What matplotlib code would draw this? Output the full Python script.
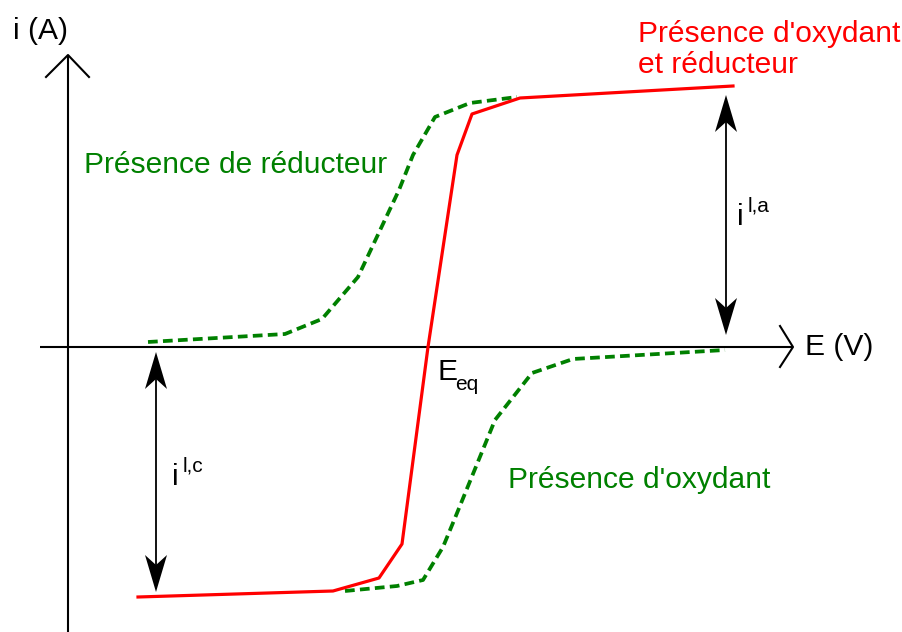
import matplotlib
matplotlib.use("Agg")
import matplotlib.pyplot as plt
from matplotlib.patches import Polygon

plt.rcParams['font.family'] = ['Liberation Sans', 'DejaVu Sans']
plt.rcParams['lines.scale_dashes'] = False

# Schematic values (E in px-like units from origin, i upward positive)
red_E = [70, 265, 311, 334, 360, 389, 404, 452, 665]
red_i = [-250, -244, -231, -197, 0, 192, 233, 249, 261]

green_red_E = [80, 217, 254, 290, 331, 345, 367, 402, 449]
green_red_i = [5, 13, 28, 70, 157, 192, 230, 244, 250]

green_ox_E = [277, 329, 355, 375, 387, 427, 464, 505, 657]
green_ox_i = [-244, -239, -233, -200, -171, -73, -26, -12, -3]

arrow_a_E = 658
arrow_a_top, arrow_a_bot = 252, 12
arrow_c_E = 88
arrow_c_top, arrow_c_bot = -5, -245

W, H = 902, 632
OX, OY = 68, 347  # pixel position of origin

fig = plt.figure(figsize=(W / 100, H / 100), dpi=100)
ax = fig.add_axes([0, 0, 1, 1])
ax.set_xlim(-OX, W - OX)
ax.set_ylim(OY - H, OY)
ax.axis('off')

# axes
ax.plot([0, 0], [OY - H, OY - 55], color='black', lw=1.5, solid_capstyle='butt')
ax.plot([-22, 0, 21], [OY - 77, OY - 55, OY - 77], color='black', lw=1.5)
ax.plot([-28, 793 - OX], [0, 0], color='black', lw=1.5, solid_capstyle='butt')
ax.plot([780 - OX, 793 - OX, 780 - OX], [21, 0, -20], color='black', lw=1.5)

# curves
ax.plot(red_E, red_i, color='#ff0000', lw=2.3, zorder=3)
l1, = ax.plot(green_red_E, green_red_i, color='#008000', lw=2.7, zorder=2)
l2, = ax.plot(green_ox_E, green_ox_i, color='#008000', lw=2.7, zorder=2)
for l in (l1, l2):
    l.set_dashes((7.0, 3.8))


def head(x, ytip, direction):
    L, hw, notch = 37, 11, 27
    pts = [(x, ytip), (x - hw, ytip - direction * L),
           (x, ytip - direction * notch), (x + hw, ytip - direction * L)]
    ax.add_patch(Polygon(pts, closed=True, color='black', lw=0, zorder=4))


def double_arrow(x, top, bot):
    ax.plot([x, x], [top - 20, bot + 20], color='black', lw=1.3)
    head(x, top, 1)
    head(x, bot, -1)


double_arrow(arrow_a_E, arrow_a_top, arrow_a_bot)
double_arrow(arrow_c_E, arrow_c_top, arrow_c_bot)

fs = 21.6
fss = 15
ax.text(13 - OX, OY - 39, 'i (A)', fontsize=fs, ha='left', va='baseline')
ax.text(805 - OX, OY - 355, 'E (V)', fontsize=fs, ha='left', va='baseline')
ax.text(437 - OX, OY - 380, 'E', fontsize=fs, ha='left', va='baseline')
ax.text(455 - OX, OY - 390, 'eq', fontsize=fss, ha='left', va='baseline')
ax.text(737 - OX, OY - 225, 'i', fontsize=fs, ha='left', va='baseline')
ax.text(748 - OX, OY - 212, 'l,a', fontsize=fss, ha='left', va='baseline')
ax.text(172 - OX, OY - 485, 'i', fontsize=fs, ha='left', va='baseline')
ax.text(183 - OX, OY - 472, 'l,c', fontsize=fss, ha='left', va='baseline')

ax.text(638 - OX, OY - 42, "Présence d'oxydant", fontsize=fs, color='#ff0000',
        ha='left', va='baseline')
ax.text(638 - OX, OY - 73, "et réducteur", fontsize=fs, color='#ff0000',
        ha='left', va='baseline')
ax.text(84 - OX, OY - 173, "Présence de réducteur", fontsize=fs, color='#008000',
        ha='left', va='baseline')
ax.text(508 - OX, OY - 488, "Présence d'oxydant", fontsize=fs, color='#008000',
        ha='left', va='baseline')

fig.savefig('out.png', dpi=100)
